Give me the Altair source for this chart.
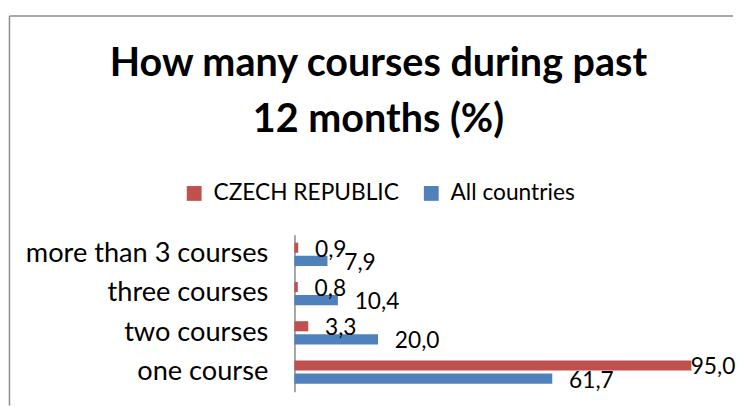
import altair as alt
import pandas as pd

categories = ["more than 3 courses", "three courses", "two courses", "one course"]
series = ["CZECH REPUBLIC", "All countries"]
czech = [0.9, 0.8, 3.3, 95.0]
all_countries = [7.9, 10.4, 20.0, 61.7]
colors = ["#C0504D", "#4F81BD"]
title_lines = ["How many courses during past", "12 months (%)"]

rows = []
for i, c in enumerate(categories):
    rows.append({"category": c, "series": series[0], "value": czech[i]})
    rows.append({"category": c, "series": series[1], "value": all_countries[i]})
df = pd.DataFrame(rows)

FONT = "Lato"

y_enc = alt.Y(
    "category:N",
    sort=categories,
    scale=alt.Scale(paddingInner=0, paddingOuter=0),
    axis=alt.Axis(
        title=None, ticks=False, labelPadding=27, labelFont=FONT, labelFontSize=27.5,
        labelColor="#000000", labelLimit=0, domainColor="#888888", domainWidth=1.5,
    ),
)
yoff = alt.YOffset("series:N", sort=series, scale=alt.Scale(paddingInner=0.226, paddingOuter=0.61))
x_enc = alt.X("value:Q", scale=alt.Scale(domain=[0, 100]), axis=None)

bars = alt.Chart(df).mark_bar().encode(
    x=x_enc,
    y=y_enc,
    yOffset=yoff,
    color=alt.Color(
        "series:N",
        scale=alt.Scale(domain=series, range=colors),
        legend=alt.Legend(
            title=None, orient="none", legendX=-113, legendY=-53.5, direction="horizontal",
            symbolType="square", symbolSize=225, symbolStrokeWidth=0, labelFont=FONT,
            labelFontSize=23, labelColor="#000000", labelOffset=8, columnPadding=21,
            padding=0, labelLimit=0,
        ),
    ),
)

labels = alt.Chart(df).transform_calculate(
    lx="min(datum.value, 90.8)",
    label="replace(format(datum.value, '.1f'), '.', ',')",
).mark_text(align="left", baseline="middle", dx=17, dy=2, font=FONT, fontSize=23, color="#000000").encode(
    x=alt.X("lx:Q"),
    y=y_enc,
    yOffset=yoff,
    text="label:N",
)

one = pd.DataFrame({"k": [0]})
left_border = alt.Chart(one).mark_rule(color="#8c8c8c", strokeWidth=1.5).encode(
    x=alt.value(-288.5), y=alt.value(-221.3), y2=alt.value(173)
)
top_border = alt.Chart(one).mark_rule(color="#8c8c8c", strokeWidth=1.5).encode(
    x=alt.value(-288.5), x2=alt.value(444), y=alt.value(-221.3)
)

chart = alt.layer(bars, labels, left_border, top_border).properties(
    width=423,
    height=159,
    background="#ffffff",
    padding={"left": 0, "top": 4, "right": 0, "bottom": 0},
    title=alt.Title(
        title_lines, font=FONT, fontSize=40, fontWeight="bold", color="#000000",
        anchor="middle", frame="group", dx=-126.5, dy=126, lineHeight=57, offset=0,
    ),
).configure_view(strokeWidth=0, stroke="transparent")

chart.save("out.html", embed_options={"renderer": "svg", "actions": False})
